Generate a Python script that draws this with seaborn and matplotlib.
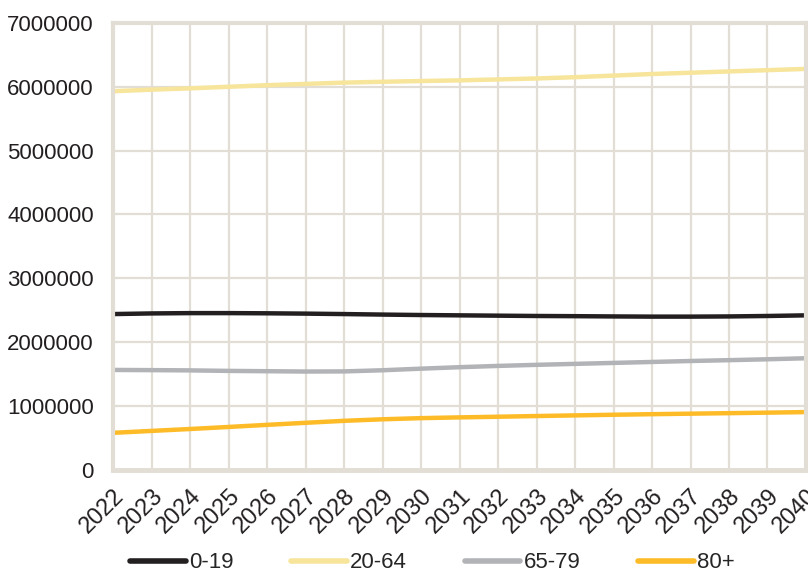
import matplotlib
matplotlib.use("Agg")
import matplotlib.pyplot as plt
import seaborn as sns
import pandas as pd

years = list(range(2022, 2041))
age_0_19 = [2440000, 2450000, 2455000, 2455000, 2452000, 2447000, 2440000, 2432000, 2425000,
            2420000, 2415000, 2410000, 2407000, 2403000, 2400000, 2400000, 2403000, 2410000, 2420000]
age_20_64 = [5930000, 5955000, 5975000, 6000000, 6025000, 6045000, 6065000, 6078000, 6090000,
             6100000, 6115000, 6130000, 6150000, 6175000, 6200000, 6220000, 6240000, 6260000, 6280000]
age_65_79 = [1565000, 1562000, 1558000, 1550000, 1545000, 1540000, 1542000, 1560000, 1585000,
             1608000, 1628000, 1645000, 1660000, 1675000, 1690000, 1705000, 1718000, 1732000, 1748000]
age_80 = [580000, 610000, 640000, 672000, 705000, 737000, 768000, 792000, 810000,
          822000, 832000, 843000, 853000, 863000, 872000, 880000, 888000, 896000, 905000]
groups = ["0-19", "20-64", "65-79", "80+"]
colors = ["#231f20", "#f7e59b", "#b1b3b6", "#fdbb27"]

df = pd.DataFrame({
    "year": years * 4,
    "value": age_0_19 + age_20_64 + age_65_79 + age_80,
    "group": [g for g in groups for _ in years],
})

sns.set_style("white")
plt.rcParams["font.family"] = ["Liberation Sans", "DejaVu Sans"]

fig = plt.figure(figsize=(8.08, 5.73), dpi=100)
ax = fig.add_axes([0.14, 0.18, 0.8575, 0.78])

sns.lineplot(data=df, x="year", y="value", hue="group", palette=colors,
             linewidth=3.2, ax=ax, legend=True)

grid_c = "#e2ddd5"
ax.set_xlim(2022, 2040)
ax.set_ylim(0, 7000000)
ax.set_xticks(years)
ax.set_yticks(range(0, 7000001, 1000000))
ax.set_yticklabels([str(v) for v in range(0, 7000001, 1000000)])
ax.set_xticklabels([str(y) for y in years], rotation=45, ha="right",
                   rotation_mode="anchor")
ax.grid(True, color=grid_c, linewidth=1.6)
ax.set_axisbelow(True)
for side in ["left", "bottom", "right", "top"]:
    ax.spines[side].set_visible(True)
    ax.spines[side].set_color(grid_c)
ax.spines["left"].set_linewidth(3)
ax.spines["bottom"].set_linewidth(3.5)
ax.spines["right"].set_linewidth(3)
ax.spines["top"].set_linewidth(3)
ax.tick_params(axis="y", length=0, pad=14, labelsize=16, labelcolor="#231f20")
ax.tick_params(axis="x", length=0, pad=11, labelsize=17, labelcolor="#231f20")
ax.set_xlabel("")
ax.set_ylabel("")

handles, labels = ax.get_legend_handles_labels()
ax.get_legend().remove()
leg = fig.legend(handles, labels, loc="center left",
                 bbox_to_anchor=(130 / 808, 1 - 563 / 573),
                 ncol=4, frameon=False, fontsize=16, handlelength=2.5,
                 handletextpad=0.15, columnspacing=2.6, borderpad=0,
                 borderaxespad=0)
for line in leg.get_lines():
    line.set_linewidth(4)

fig.savefig("out.png", dpi=100)
